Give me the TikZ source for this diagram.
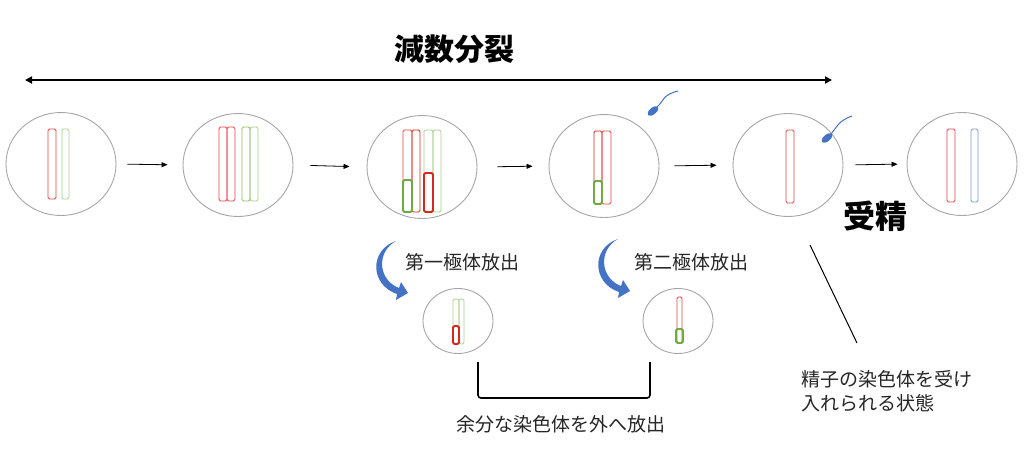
\documentclass[tikz,border=0pt]{standalone}
\usepackage{fontspec}
\setmainfont{Noto Sans CJK JP}
\usetikzlibrary{arrows.meta,shapes.geometric}
\definecolor{cellgray}{HTML}{A6A6A6}
\definecolor{chrred}{HTML}{E8464B}
\definecolor{chrredD}{HTML}{D42A1E}
\definecolor{chrgreen}{HTML}{A9D18E}
\definecolor{chrgreenD}{HTML}{6FAA45}
\definecolor{chrblue}{HTML}{7F9BD0}
\definecolor{arrblue}{HTML}{4472C4}
\begin{document}
\begin{tikzpicture}[x=1pt,y=-1pt,
  cell/.style={draw=cellgray, line width=0.9pt, ellipse, minimum width=110pt, minimum height=103pt, inner sep=0pt},
  pbody/.style={draw=cellgray, line width=0.9pt, ellipse, minimum width=70pt, minimum height=65pt, inner sep=0pt},
  chrR/.style={draw=chrred, line width=0.8pt, rounded corners=1.5pt},
  chrG/.style={draw=chrgreen, line width=0.8pt, rounded corners=1.5pt},
  chrB/.style={draw=chrblue, line width=0.8pt, rounded corners=1.5pt},
  segG/.style={draw=chrgreenD, line width=1.8pt, rounded corners=1.5pt},
  segR/.style={draw=chrredD, line width=1.8pt, rounded corners=1.5pt},
  steparrow/.style={-{Triangle[length=6pt,width=5pt]}, line width=0.8pt},
  txt/.style={inner sep=0pt, font=\fontsize{19}{23.5}\selectfont, text=black!85},
  bigtxt/.style={inner sep=0pt, font=\bfseries\fontsize{30}{36}\selectfont},
  spermhead/.style={fill=arrblue},
  spermtail/.style={draw=arrblue, line width=1pt},
  bluearrow/.style={fill=arrblue}
]
\useasboundingbox (0,0) rectangle (1024,461);
\fill[white] (0,0) rectangle (1024,461);

% title and double arrow
\node[bigtxt] (title) at (454,49) {減数分裂};
\coordinate (mL) at (25,80);
\coordinate (mR) at (832,80);
\draw[{Triangle[length=7pt,width=7pt]}-{Triangle[length=7pt,width=7pt]}, line width=2.6pt] (mL) -- (mR);

% cells
\node[cell] (c1) at (61,164) {};
\node[cell] (c2) at (238,165) {};
\node[cell] (c3) at (422,167) {};
\node[cell] (c4) at (604,166) {};
\node[cell] (c5) at (788,165) {};
\node[cell] (c6) at (962,164) {};

% step arrows
\draw[steparrow, shorten <=11pt, shorten >=15pt] (c1.east) -- (c2.west);
\draw[steparrow, shorten <=17pt, shorten >=17pt] (c2.east) -- (c3.west);
\draw[steparrow, shorten <=20pt, shorten >=16pt] (c3.east) -- (c4.west);
\draw[steparrow, shorten <=15pt, shorten >=16pt] (c4.east) -- (c5.west);
\draw[steparrow, shorten <=12pt, shorten >=9pt] (c5.east) -- (c6.west);

% chromosomes cell 1
\draw[chrR] (48,129) rectangle (56,199);
\draw[chrG] (62,129) rectangle (69,199);
% cell 2
\draw[chrR] (219,127) rectangle (227,201);
\draw[chrR] (227,127) rectangle (235,201);
\draw[chrG] (250,127) rectangle (258,201);
\draw[chrG, draw=chrgreenD!80] (242,127) rectangle (250,201);
% cell 3
\draw[chrR] (403,130) rectangle (412,212);
\draw[chrR, draw=chrredD] (412,130) rectangle (420,212);
\draw[chrG] (424,130) rectangle (433,212);
\draw[chrG] (433,130) rectangle (441,212);
\draw[segG] (403,180) rectangle (412,212);
\draw[segR] (424,173) rectangle (433,212);
% cell 4
\draw[chrR, draw=chrredD] (594,131) rectangle (602,204);
\draw[chrR] (602,131) rectangle (611,204);
\draw[segG] (594,181) rectangle (602,204);
% cell 5
\draw[chrR] (786,130) rectangle (794,203);
% cell 6
\draw[chrR] (947,129) rectangle (955,202);
\draw[chrB] (971,129) rectangle (978,202);

% sperms
\fill[spermhead, shift={(653,111)}, rotate=40] (0,0) ellipse [x radius=6.5pt, y radius=3.3pt];
\draw[spermtail] (657,107) .. controls (664,101) and (662,95) .. (678,91);
\fill[spermhead, shift={(827,138)}, rotate=40] (0,0) ellipse [x radius=6.5pt, y radius=3.3pt];
\draw[spermtail] (831,134) .. controls (837,127) and (838,121) .. (852,116);

% fertilisation label
\node[bigtxt, font=\bfseries\fontsize{32}{38}\selectfont] (fert) at (875,216) {受精};

% polar body labels
\node[txt] (pb1lab) at (462,262) {第一極体放出};
\node[txt] (pb2lab) at (691,262) {第二極体放出};

% curved blue arrows
\foreach \dx/\dy in {0/0, 222/-2} {
  \begin{scope}[shift={(\dx,\dy)}]
    \fill[bluearrow] (396,241) .. controls (369,250) and (370,285) .. (397,294)
      -- (396,300) -- (408,293) -- (401,282) -- (399,288)
      .. controls (378,280) and (376,252) .. (396,241) -- cycle;
  \end{scope}
}

% polar bodies
\node[pbody] (pb1) at (458,321) {};
\node[pbody] (pb2) at (678,321) {};
\draw[chrG] (453,299) rectangle (459,344);
\draw[chrG] (459,299) rectangle (464,344);
\draw[segR] (453,326) rectangle (459,344);
\draw[chrR] (677,297) rectangle (682,343);
\draw[segG] (676,329) rectangle (683,343);

% bracket
\coordinate (bL) at (478,362);
\coordinate (bR) at (650,362);
\draw[line width=1.6pt, rounded corners=3pt] (bL) -- (478,398) -- (650,398) -- (bR);
\node[txt] (extra) at (561,424) {余分な染色体を外へ放出};

% pointer and note
\coordinate (p1) at (810,245);
\coordinate (p2) at (857,343);
\draw[line width=1pt] (p1) -- (p2);
\node[txt, anchor=west, align=left] (note) at (801,391) {精子の染色体を受け\\入れられる状態};
\end{tikzpicture}
\end{document}
